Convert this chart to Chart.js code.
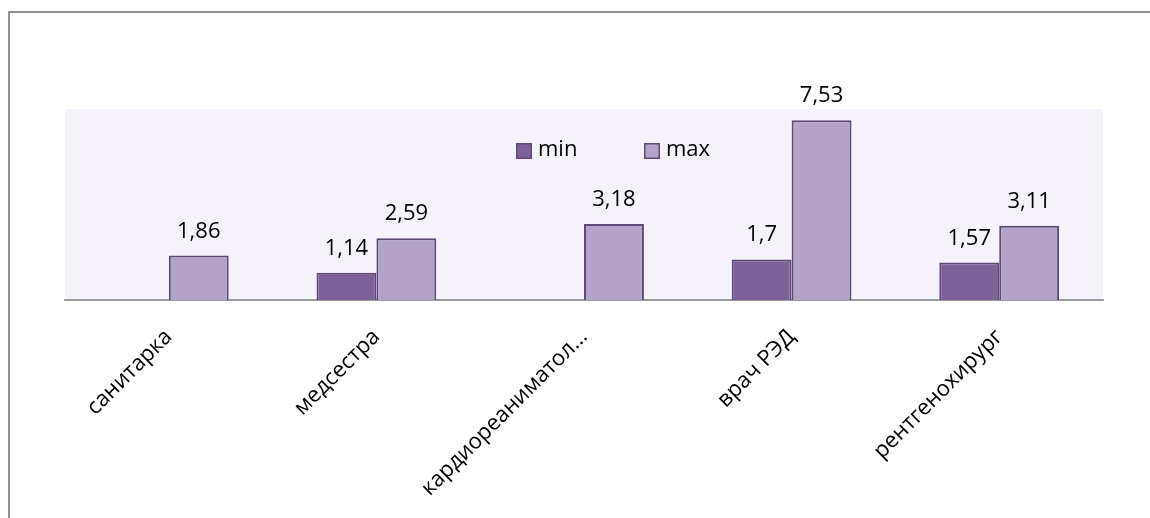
<!DOCTYPE html>
<html>
<head>
  <title>min / max</title>
  <script src="https://cdn.jsdelivr.net/npm/chart.js"></script>
  <style>
    body { margin: 0; background: #fff; overflow: hidden; }
    #frame {
      position: absolute; left: 8px; top: 11px;
      width: 1300px; height: 700px;
      border-left: 2px solid #929292;
      border-top: 2px solid #929292;
    }
    #myChart { position: absolute; left: 0; top: 0; }
  </style>
</head>
<body>
  <div id="frame"></div>
  <canvas id="myChart" width="1150" height="518"></canvas>
  <script>
    // datos
    var categorias = ['санитарка', 'медсестра', 'кардиореаниматол…', 'врач РЭД', 'рентгенохирург'];
    var valoresMin = [null, 1.14, null, 1.7, 1.57];
    var valoresMax = [1.86, 2.59, 3.18, 7.53, 3.11];
    var nombres = ['min', 'max'];

    var fuente = '"Open Sans", "Noto Sans", sans-serif';

    // fondo del área del gráfico
    var fondoPlugin = {
      id: 'fondo',
      beforeDraw: function(chart) {
        var a = chart.chartArea;
        var ctx = chart.ctx;
        ctx.save();
        ctx.fillStyle = '#f5f3f9';
        ctx.fillRect(a.left, a.top, a.right - a.left, a.bottom - a.top);
        ctx.restore();
      }
    };

    // etiquetas de valores encima de las barras
    var etiquetasPlugin = {
      id: 'etiquetas',
      afterDatasetsDraw: function(chart) {
        var ctx = chart.ctx;
        ctx.save();
        ctx.font = '22px ' + fuente;
        ctx.fillStyle = '#000';
        ctx.textAlign = 'center';
        ctx.textBaseline = 'alphabetic';
        chart.data.datasets.forEach(function(ds, i) {
          var meta = chart.getDatasetMeta(i);
          meta.data.forEach(function(bar, j) {
            var v = ds.data[j];
            if (v === null || v === undefined) return;
            ctx.fillText(String(v).replace('.', ','), bar.x, bar.y - 18);
          });
        });
        ctx.restore();
      }
    };

    // leyenda dentro del área del gráfico
    var leyendaPlugin = {
      id: 'leyenda',
      afterDraw: function(chart) {
        var a = chart.chartArea;
        var ctx = chart.ctx;
        var x = a.left + 451;
        var y = a.top + 34;
        ctx.save();
        ctx.font = '22px ' + fuente;
        ctx.textBaseline = 'middle';
        ctx.textAlign = 'left';
        chart.data.datasets.forEach(function(ds, i) {
          var bx = x + i * 128;
          ctx.fillStyle = ds.backgroundColor;
          ctx.fillRect(bx, y, 16, 16);
          ctx.strokeStyle = ds.borderColor;
          ctx.lineWidth = 1.5;
          ctx.strokeRect(bx + 0.75, y + 0.75, 14.5, 14.5);
          ctx.fillStyle = '#000';
          ctx.fillText(ds.label, bx + 22, y + 7);
        });
        ctx.restore();
      }
    };

    var ctx = document.getElementById('myChart').getContext('2d');
    new Chart(ctx, {
      type: 'bar',
      data: {
        labels: categorias,
        datasets: [
          {
            label: nombres[0],
            data: valoresMin,
            backgroundColor: '#7f6199',
            borderColor: '#5e4878',
            borderWidth: 2
          },
          {
            label: nombres[1],
            data: valoresMax,
            backgroundColor: '#b3a3c8',
            borderColor: '#5e4878',
            borderWidth: 2
          }
        ]
      },
      options: {
        responsive: false,
        animation: false,
        categoryPercentage: 0.577,
        barPercentage: 1,
        layout: { padding: { left: 65, right: 47, top: 109, bottom: 0 } },
        plugins: {
          legend: { display: false },
          tooltip: { enabled: false }
        },
        scales: {
          x: {
            grid: { display: false, drawTicks: false },
            border: { display: true, color: '#9a9a9a', width: 2 },
            ticks: {
              autoSkip: false,
              minRotation: 45,
              maxRotation: 45,
              padding: 24,
              color: '#000',
              font: { family: fuente, size: 22 }
            },
            afterFit: function(scale) { scale.height = 218; }
          },
          y: {
            display: false,
            min: 0,
            max: 8
          }
        }
      },
      plugins: [fondoPlugin, etiquetasPlugin, leyendaPlugin]
    });
  </script>
</body>
</html>
